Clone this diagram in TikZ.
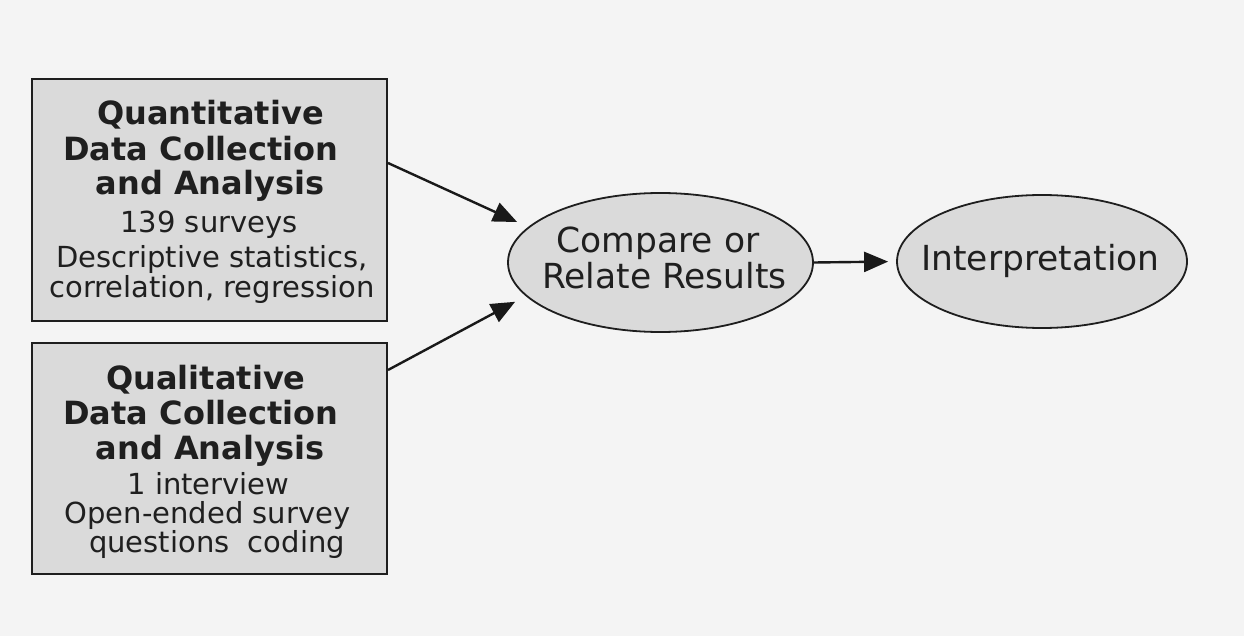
\documentclass[tikz,border=0pt]{standalone}
\usepackage{fontspec}
\setmainfont{DejaVu Sans}
\usetikzlibrary{shapes.geometric,arrows.meta}
\definecolor{bg}{HTML}{F4F4F4}
\definecolor{boxfill}{HTML}{DADADA}
\definecolor{edge}{HTML}{1E1E1E}
\begin{document}
\begin{tikzpicture}[x=1pt,y=-1pt,
  box/.style={draw=edge, line width=2pt, fill=boxfill, rectangle, inner sep=0pt},
  oval/.style={draw=edge, line width=1.8pt, fill=boxfill, ellipse, inner sep=0pt},
  ttl/.style={anchor=base, font=\fontsize{32}{35}\selectfont\bfseries, text=black!88, inner sep=0pt},
  txt/.style={anchor=base, font=\fontsize{29}{33}\selectfont, text=black!88, inner sep=0pt},
  otxt/.style={anchor=base, font=\fontsize{34.5}{38}\selectfont, text=black!88, inner sep=0pt},
  arr/.style={-{Triangle[length=24pt,width=20pt]}, line width=2.4pt, draw=black!90}]
\fill[bg] (0,0) rectangle (1244,636);
\useasboundingbox (0,0) rectangle (1244,636);

% boxes
\node[box, minimum width=355pt, minimum height=242pt] (quant) at (209.5,200) {};
\node[box, minimum width=355pt, minimum height=231pt] (qual) at (209.5,458.5) {};

% quantitative text
\node[ttl] (q1) at (210.5,125) {Quantitative};
\node[ttl] (q2) at (201,161) {Data Collection};
\node[ttl] (q3) at (210,195) {and Analysis};
\node[txt] (q4) at (209,233) {139 surveys};
\node[txt] (q5) at (212,267) {Descriptive statistics,};
\node[txt] (q6) at (212,298) {correlation, regression};

% qualitative text
\node[ttl] (l1) at (206,389) {Qualitative};
\node[ttl] (l2) at (201,424) {Data Collection};
\node[ttl] (l3) at (210,459) {and Analysis};
\node[txt] (l4) at (208.5,494) {1 interview};
\node[txt] (l5) at (207.5,523) {Open-ended survey};
\node[txt] (l6) at (217,552) {questions\ \ coding};

% ellipses
\node[oval, minimum width=305pt, minimum height=139pt] (cmp) at (660.5,262.5) {};
\node[otxt] (c1) at (658,253) {Compare or};
\node[otxt] (c2) at (664.5,288) {Relate Results};
\node[oval, minimum width=290pt, minimum height=133pt] (interp) at (1042,261.5) {};
\node[otxt] (i1) at (1040.5,271) {Interpretation};

% arrows
\draw[arr, shorten >=12pt] ([yshift=37pt]quant.east) -- (cmp.165.7);
\draw[arr, shorten >=12pt] ([yshift=88.5pt]qual.east) -- (cmp.194.7);
\draw[arr, shorten >=8pt] (cmp.east) -- (interp.west);
\end{tikzpicture}
\end{document}
